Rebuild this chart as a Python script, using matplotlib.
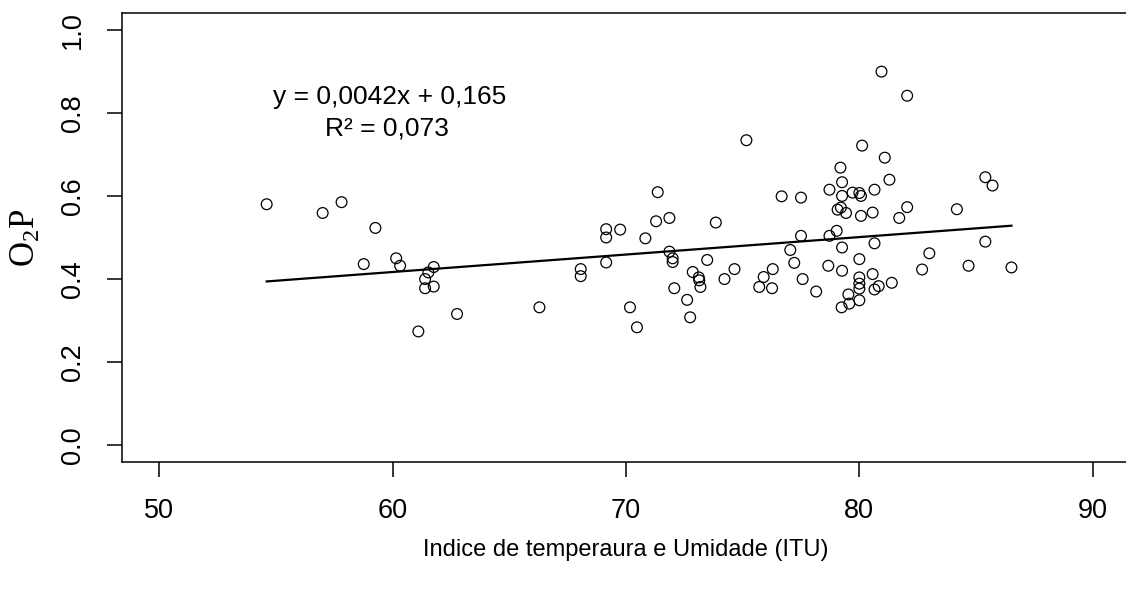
import numpy as np
import matplotlib.pyplot as plt

# ITU (x) and O2P (y)
itu = [54.60, 57.00, 57.81, 59.26, 58.76, 60.15, 60.32, 61.76, 61.53, 61.39,
       61.39, 61.76, 62.76, 61.10,
       66.29, 68.06, 68.06, 69.15, 69.15, 69.75, 69.15, 70.17, 70.47, 70.83,
       71.29, 71.36, 71.86, 71.86, 72.00, 72.00, 72.07, 72.62, 72.75, 72.86,
       73.12, 73.14, 73.19, 73.48, 73.85, 74.22, 74.65,
       80.95, 82.05, 75.16, 80.12, 81.09, 79.19, 81.29, 79.26, 78.72, 80.65,
       76.67, 77.50, 79.26, 79.71, 80.00, 80.07, 79.07, 79.21, 79.43, 80.07,
       80.57, 81.71, 82.05, 77.50, 77.04, 77.21, 78.72, 79.03, 79.26, 80.65,
       80.00, 78.67, 79.26, 80.57, 80.00, 80.00, 80.00, 80.00, 80.65, 80.83,
       81.39, 79.53, 79.57, 79.24, 78.15, 77.57, 76.29, 75.90, 75.71, 76.26,
       85.40, 85.71, 84.18, 85.40, 83.00, 82.69, 84.68, 86.52]
o2p = [0.580, 0.559, 0.585, 0.523, 0.436, 0.450, 0.432, 0.429, 0.416, 0.400,
       0.378, 0.382, 0.316, 0.274,
       0.332, 0.424, 0.407, 0.520, 0.500, 0.519, 0.440, 0.332, 0.284, 0.498,
       0.539, 0.609, 0.547, 0.466, 0.450, 0.441, 0.378, 0.350, 0.308, 0.417,
       0.404, 0.397, 0.381, 0.446, 0.536, 0.400, 0.424,
       0.899, 0.841, 0.734, 0.721, 0.692, 0.668, 0.639, 0.633, 0.615, 0.615,
       0.599, 0.596, 0.600, 0.608, 0.607, 0.600, 0.567, 0.572, 0.559, 0.552,
       0.560, 0.547, 0.573, 0.504, 0.470, 0.439, 0.504, 0.516, 0.476, 0.486,
       0.448, 0.432, 0.420, 0.412, 0.404, 0.389, 0.377, 0.349, 0.375, 0.383,
       0.391, 0.363, 0.341, 0.332, 0.370, 0.400, 0.424, 0.405, 0.381, 0.378,
       0.645, 0.625, 0.568, 0.490, 0.462, 0.423, 0.432, 0.428]

# fitted line as printed on the chart
slope = 0.0042
intercept = 0.165
eq_label = 'y = 0,0042x + 0,165'
r2_label = 'R² = 0,073'

x_ticks = [50, 60, 70, 80, 90]
y_ticks = [0.0, 0.2, 0.4, 0.6, 0.8, 1.0]

plt.rcParams['font.family'] = ['Liberation Sans', 'DejaVu Sans']
plt.rcParams['mathtext.fontset'] = 'custom'
plt.rcParams['mathtext.rm'] = 'Liberation Serif'

fig = plt.figure(figsize=(11.26, 5.92), dpi=100)
ax = fig.add_axes([122 / 1126, 130 / 592, 1008 / 1126, 449 / 592])

x = np.array(itu)
y = np.array(o2p)
ax.scatter(x, y, s=60, facecolors='none', edgecolors='black', linewidths=0.9, zorder=3)

xl = np.array([x.min(), x.max()])
ax.plot(xl, intercept + slope * xl, color='black', lw=1.6, zorder=2)

ax.set_xlim(48.4, 91.6)
ax.set_ylim(-0.04, 1.04)
ax.set_xticks(x_ticks)
ax.set_yticks(y_ticks)
ax.set_yticklabels(['%.1f' % v for v in y_ticks])
ax.tick_params(direction='out', length=11, width=1.1, pad=15, labelsize=19.5)
for lab in ax.get_yticklabels():
    lab.set_rotation(90)
    lab.set_va('center')
for sp in ax.spines.values():
    sp.set_linewidth(1.1)

ax.set_xlabel('Indice de temperaura e Umidade (ITU)', fontsize=17)
ax.xaxis.set_label_coords(0.5, -0.196)
ax.xaxis.label.set_va('center')
ax.set_ylabel(r'$\mathrm{O_2P}$', fontsize=25)
ax.yaxis.set_label_coords(-0.096, 0.5)
ax.yaxis.label.set_va('center')

ax.text(59.86, 0.838, eq_label, ha='center', va='center', fontsize=19)
ax.text(59.75, 0.763, r2_label, ha='center', va='center', fontsize=19)

fig.savefig('out.png', dpi=100)
